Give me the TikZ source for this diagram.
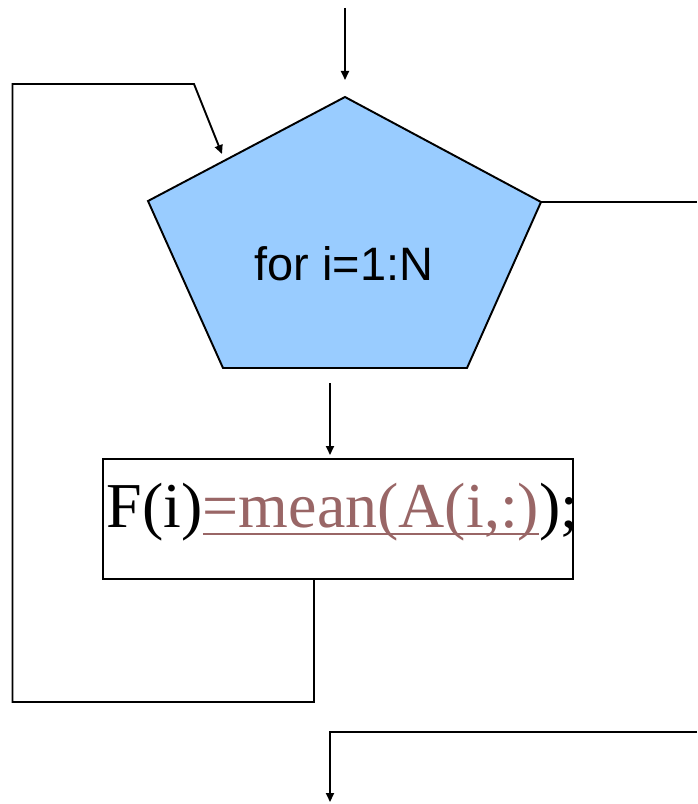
\documentclass[tikz,border=0pt]{standalone}
\usepackage{fontspec}
\setmainfont{Liberation Serif}
\newfontfamily\arialfont{Liberation Sans}
\usepackage{xcolor}
\usetikzlibrary{arrows.meta,positioning,calc}

\definecolor{loopblue}{HTML}{99CCFF}
\definecolor{linkbrown}{HTML}{996666}
\newcommand{\linkul}[1]{{\color{linkbrown}\setbox0=\hbox{#1}\rlap{\rule[-0.13em]{\wd0}{0.035em}}\box0}}

\begin{document}
\begin{tikzpicture}[x=0.02cm, y=-0.02cm, >={Triangle[length=0.18cm, width=0.16cm]}, line width=1.1pt]
  \useasboundingbox (0,0) rectangle (697,804);

  % Define coordinates for the pentagon
  \coordinate (ptop) at (345,97);
  \coordinate (pright) at (541,202);
  \coordinate (pbr) at (467,368);
  \coordinate (pbl) at (223,368);
  \coordinate (pleft) at (148,201);
  \draw[fill=loopblue] (ptop) -- (pright) -- (pbr) -- (pbl) -- (pleft) -- cycle;
  \node[anchor=base, inner sep=0] (looptext) at (344,280) {\arialfont\fontsize{26.7}{30}\selectfont for i=1:N};

  % Body of the loop
  \node[draw, minimum width=9.4cm, minimum height=2.4cm, inner sep=0] (body) at (338,519) {};
  \node[anchor=base west, inner sep=0] (bodytext) at (106,527) {\fontsize{36.4}{40}\selectfont F(i)\linkul{=mean(A(i,:)});};

  % Free ends of the connectors
  \coordinate (entry) at (345,8);
  \coordinate (entryend) at (345,80);
  \coordinate (downstart) at (330,383);
  \coordinate (downend) at (330,455);
  \coordinate (bodyout) at ([xshift=-0.48cm]body.south);
  \coordinate (backdown) at (314,702);
  \coordinate (backleft) at (12.5,702);
  \coordinate (backup) at (12.5,84);
  \coordinate (backright) at (194,84);
  \coordinate (backend) at (222,154);
  \coordinate (exitright) at (697,202);
  \coordinate (exitin) at (697,732);
  \coordinate (exitturn) at (330,732);
  \coordinate (exitend) at (330,802);

  % Draw arrows between nodes
  \draw[->] (entry) to (entryend);
  \draw[->] (downstart) to (downend);
  \draw[->] (bodyout) -- (backdown) -- (backleft) -- (backup) -- (backright) -- (backend);
  \draw (pright) -- (exitright);
  \draw[->] (exitin) -- (exitturn) -- (exitend);
\end{tikzpicture}
\end{document}
